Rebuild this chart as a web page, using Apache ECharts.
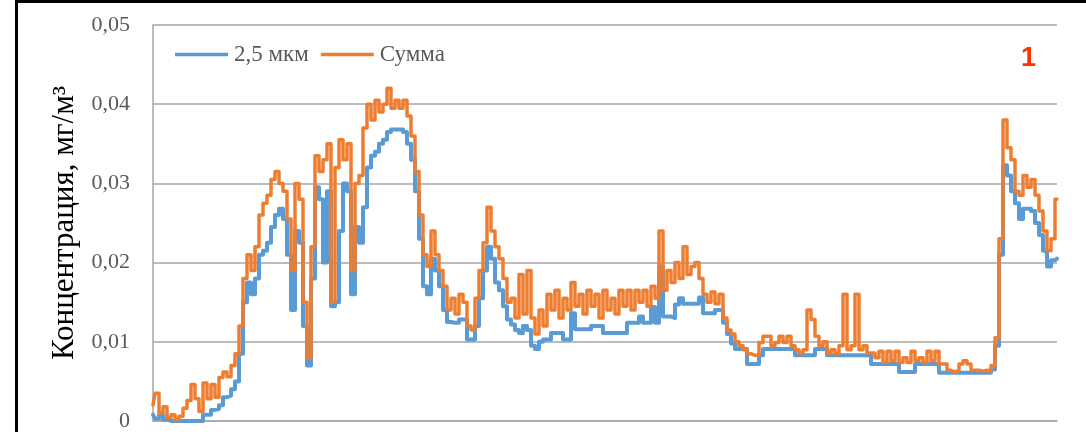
<!DOCTYPE html>
<html>
<head>
<meta charset="utf-8">
<script src="https://cdn.jsdelivr.net/npm/echarts@6/dist/echarts.min.js"></script>
<style>
  html, body { margin: 0; padding: 0; background: #ffffff; }
  #chart { width: 1086px; height: 432px; }
</style>
</head>
<body>
<div id="chart"></div>
<script>
// Concentration readings, mg/m3, one sample per time step
const pm25 = [
  0.0008,0.0003,0.0008,0.0002,0,0,0,0,0,0,
  0,0,0,0.0008,0.0008,0.0014,0.0015,0.002,0.003,0.0032,
  0.004,0.005,0.0085,0.015,0.0175,0.016,0.018,0.021,0.0215,0.0225,
  0.0245,0.026,0.0268,0.0255,0.021,0.014,0.024,0.0225,0.012,0.007,
  0.018,0.0295,0.028,0.020,0.029,0.0145,0.015,0.024,0.030,0.029,
  0.016,0.0245,0.0225,0.027,0.032,0.0335,0.034,0.035,0.0355,0.0365,
  0.0368,0.0368,0.0368,0.0365,0.035,0.033,0.029,0.023,0.017,0.016,
  0.0205,0.019,0.017,0.014,0.0125,0.0124,0.0124,0.0128,0.0128,0.0103,
  0.0103,0.012,0.0155,0.019,0.022,0.0205,0.0175,0.0165,0.0145,0.0128,
  0.0122,0.0115,0.0111,0.012,0.0115,0.0095,0.0091,0.01,0.0103,0.0103,
  0.0111,0.0111,0.0111,0.0103,0.0103,0.0136,0.0116,0.0116,0.0116,0.0116,
  0.012,0.012,0.012,0.0111,0.0111,0.0111,0.0111,0.0111,0.0111,0.0124,
  0.0124,0.0124,0.0132,0.0124,0.0124,0.0144,0.0124,0.0195,0.0132,0.0132,
  0.013,0.0147,0.0155,0.0148,0.0148,0.0148,0.0148,0.0156,0.0136,0.0136,
  0.0136,0.014,0.014,0.0124,0.011,0.0098,0.0091,0.0091,0.0091,0.0072,
  0.0072,0.0072,0.0083,0.0091,0.0091,0.0091,0.0091,0.0091,0.0091,0.0091,
  0.0091,0.0083,0.0083,0.0083,0.0083,0.0083,0.0091,0.0091,0.0091,0.0083,
  0.0083,0.0083,0.0083,0.0083,0.0083,0.0083,0.0083,0.0083,0.0083,0.0083,
  0.0072,0.0072,0.0072,0.0072,0.0072,0.0072,0.0072,0.0062,0.0062,0.0062,
  0.0062,0.0072,0.0072,0.0072,0.0072,0.0072,0.0072,0.0061,0.0061,0.0061,
  0.0061,0.0061,0.0061,0.0061,0.0061,0.0061,0.0061,0.0061,0.0061,0.0061,
  0.0065,0.0095,0.021,0.0323,0.031,0.029,0.0275,0.0255,0.0268,0.0268,
  0.0265,0.025,0.0235,0.0215,0.0195,0.0203,0.0205
];

const total = [
  0.002,0.0035,0.001,0.0018,0.0004,0.0008,0.0002,0.0006,0.0016,0.0026,
  0.0046,0.0028,0.0012,0.0048,0.0028,0.0046,0.003,0.0055,0.0062,0.0056,
  0.007,0.0085,0.012,0.018,0.021,0.019,0.022,0.026,0.0275,0.0285,
  0.0305,0.0315,0.030,0.029,0.0255,0.019,0.030,0.028,0.015,0.008,
  0.022,0.0335,0.0315,0.033,0.035,0.015,0.032,0.0355,0.033,0.035,
  0.019,0.030,0.031,0.037,0.040,0.038,0.0405,0.039,0.040,0.042,
  0.0395,0.0405,0.0395,0.0405,0.0385,0.036,0.0315,0.026,0.021,0.0195,
  0.024,0.021,0.019,0.017,0.014,0.0155,0.0135,0.016,0.015,0.012,
  0.0115,0.0155,0.019,0.0225,0.027,0.024,0.022,0.0205,0.018,0.015,
  0.0155,0.013,0.0185,0.0135,0.019,0.013,0.011,0.014,0.012,0.016,
  0.014,0.0165,0.013,0.0155,0.014,0.0175,0.0145,0.016,0.0135,0.0165,
  0.0145,0.016,0.013,0.0165,0.014,0.0155,0.0135,0.0165,0.0145,0.0165,
  0.014,0.0165,0.015,0.0165,0.0145,0.017,0.0155,0.024,0.0165,0.019,
  0.0175,0.020,0.018,0.022,0.0185,0.0195,0.020,0.018,0.016,0.015,
  0.0163,0.0148,0.016,0.013,0.0115,0.011,0.010,0.0095,0.009,0.0085,
  0.0083,0.0083,0.0099,0.0107,0.0107,0.0095,0.0099,0.0107,0.0099,0.0107,
  0.0095,0.009,0.0086,0.009,0.014,0.0128,0.0107,0.0095,0.010,0.0086,
  0.009,0.0085,0.0095,0.016,0.009,0.0095,0.016,0.009,0.0095,0.0086,
  0.0086,0.008,0.0088,0.0074,0.0088,0.0076,0.0088,0.0074,0.008,0.0074,
  0.0088,0.0076,0.008,0.0074,0.0088,0.0076,0.0088,0.0072,0.0072,0.0064,
  0.0062,0.0064,0.0072,0.0076,0.0072,0.0064,0.0064,0.0063,0.0064,0.0063,
  0.007,0.0105,0.023,0.038,0.0345,0.033,0.029,0.0285,0.031,0.0295,
  0.0305,0.0285,0.0265,0.024,0.0215,0.023,0.028
];

const seriesNames = ['2,5 мкм', 'Сумма'];
const seriesColors = ['#5b9bd5', '#ed7d31'];
const yTicks = { min: 0, max: 0.05, interval: 0.01 };
const panelLabel = '1';

const steps = pm25.map((_, i) => String(i));
const serif = '"Liberation Serif", "Times New Roman", serif';

const chart = echarts.init(document.getElementById('chart'), null, { renderer: 'canvas' });
chart.setOption({
  animation: false,
  backgroundColor: '#ffffff',
  grid: { left: 153, right: 29, top: 25, bottom: 6, containLabel: false },
  title: {
    text: panelLabel,
    left: 1021, top: 45, padding: 0,
    textStyle: { color: '#ff3300', fontSize: 27, fontWeight: 'bold', fontFamily: 'Arial, "Liberation Sans", sans-serif' }
  },
  legend: {
    data: seriesNames,
    left: 175, top: 43, padding: 0,
    icon: 'rect',
    itemWidth: 53, itemHeight: 3.5, itemGap: 12,
    textStyle: { fontFamily: serif, fontSize: 23, color: '#595959', padding: [0, 0, 0, 1] }
  },
  xAxis: {
    type: 'category',
    data: steps,
    boundaryGap: false,
    axisLine: { show: true, lineStyle: { color: '#a6a6a6', width: 1.5 } },
    axisTick: { show: false },
    axisLabel: { show: false },
    splitLine: { show: false }
  },
  yAxis: {
    type: 'value',
    min: yTicks.min, max: yTicks.max, interval: yTicks.interval,
    name: 'Концентрация, мг/м³',
    nameLocation: 'middle',
    nameGap: 73,
    nameTextStyle: { fontFamily: serif, fontSize: 31, color: '#000000' },
    axisLine: { show: true, lineStyle: { color: '#a6a6a6', width: 1.5 } },
    axisTick: { show: false },
    axisLabel: {
      margin: 23,
      fontFamily: serif, fontSize: 22, color: '#595959',
      formatter: v => (Math.round(v * 100) / 100).toString().replace('.', ',')
    },
    splitLine: { show: true, lineStyle: { color: '#a6a6a6', width: 1.5 } }
  },
  series: [
    {
      name: seriesNames[0], type: 'line', data: pm25,
      symbol: 'none', step: 'middle', color: seriesColors[0],
      lineStyle: { width: 4, color: seriesColors[0], join: 'round', cap: 'round' }
    },
    {
      name: seriesNames[1], type: 'line', data: total,
      symbol: 'none', step: 'middle', color: seriesColors[1],
      lineStyle: { width: 3.5, color: seriesColors[1], join: 'round', cap: 'round' }
    }
  ],
  graphic: [{
    type: 'rect',
    silent: true,
    z: 100,
    shape: { x: 16.5, y: 1.5, width: 1200, height: 600 },
    style: { fill: 'none', stroke: '#000000', lineWidth: 3 }
  }]
});
</script>
</body>
</html>
